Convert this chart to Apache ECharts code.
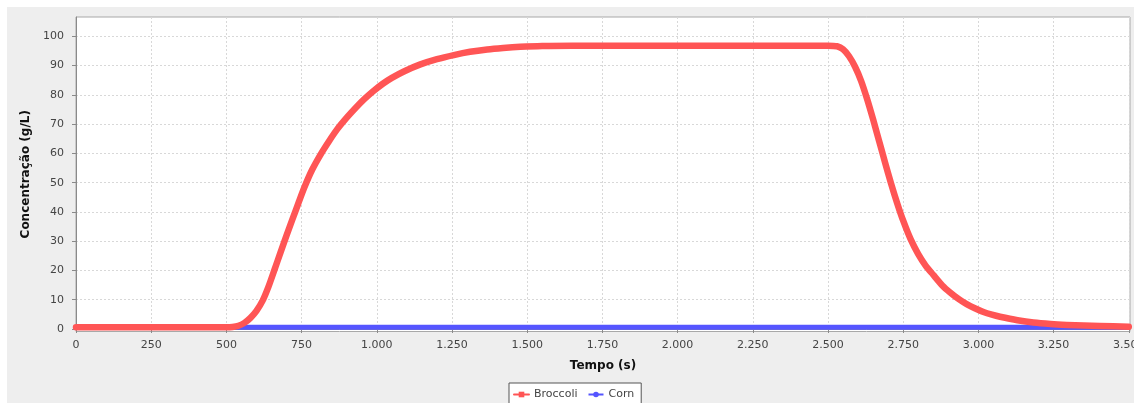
<!DOCTYPE html>
<html>
<head>
<meta charset="utf-8">
<script src="https://cdn.jsdelivr.net/npm/echarts@6/dist/echarts.min.js"></script>
<style>
  html, body { margin: 0; padding: 0; background: #ffffff; overflow: hidden; }
  #panel { position: absolute; left: 7px; top: 7px; width: 1127px; height: 396px; background: #eeeeee; }
  #chart { position: absolute; left: 0; top: 0; width: 1134px; height: 403px; }
</style>
</head>
<body>
<div id="panel"></div>
<div id="chart"></div>
<script>
// Simulated concentration over time (s) for two products
const tempo = [0, 500, 520, 540, 560, 580, 600, 620, 640, 660, 680, 700, 720, 740, 760, 785, 813, 840, 868, 900, 930, 960, 990, 1020, 1050, 1090, 1145, 1200, 1256, 1310, 1367, 1420, 1477, 1550, 1650, 2000, 2500, 2530, 2550, 2570, 2590, 2610, 2630, 2650, 2670, 2690, 2710, 2730, 2750, 2775, 2800, 2825, 2850, 2880, 2906, 2935, 2961, 2990, 3017, 3045, 3072, 3130, 3183, 3240, 3294, 3350, 3404, 3500];
const broccoli = [0.6, 0.6, 0.7, 1.1, 2.1, 3.8, 6.2, 9.6, 14.5, 20.3, 26.2, 32.0, 37.6, 43.2, 48.6, 54.4, 59.6, 64.0, 68.2, 72.2, 75.6, 78.7, 81.4, 83.8, 85.8, 88.0, 90.4, 92.2, 93.6, 94.7, 95.5, 96.0, 96.4, 96.7, 96.8, 96.8, 96.8, 96.6, 95.6, 93.2, 89.6, 84.8, 78.6, 71.6, 64.2, 56.8, 49.6, 43.0, 37.0, 30.6, 25.6, 21.6, 18.5, 14.9, 12.5, 10.2, 8.5, 7.0, 5.8, 4.9, 4.2, 3.0, 2.2, 1.7, 1.4, 1.2, 1.0, 0.8];
const cornTempo = [0, 3500];
const corn = [0.6, 0.6];

const xTicks = [0, 250, 500, 750, 1000, 1250, 1500, 1750, 2000, 2250, 2500, 2750, 3000, 3250, 3500];
const yTicks = [0, 10, 20, 30, 40, 50, 60, 70, 80, 90, 100];

const pairs = (xs, ys) => xs.map((x, i) => [x, ys[i]]);
const thousands = v => String(v).replace(/\B(?=(\d{3})+(?!\d))/g, '.');

const font = 'DejaVu Sans';
const chart = echarts.init(document.getElementById('chart'), null, { renderer: 'canvas' });

chart.setOption({
  backgroundColor: 'transparent',
  animation: false,
  grid: {
    left: 76, top: 17, right: 4, bottom: 71.5,
    outerBoundsMode: 'none', containLabel: false,
    show: true, backgroundColor: '#ffffff', borderColor: '#a8a8a8', borderWidth: 1
  },
  xAxis: {
    type: 'value', min: 0, max: 3504, offset: 2,
    name: 'Tempo (s)', nameLocation: 'middle', nameGap: 26.5,
    nameTextStyle: { fontFamily: font, fontWeight: 'bold', fontSize: 12, color: '#111' },
    axisLine: { show: true, lineStyle: { color: '#8a8a8a', width: 1 } },
    axisTick: { show: true, length: 4, lineStyle: { color: '#8a8a8a' }, customValues: xTicks },
    axisLabel: { customValues: xTicks, formatter: thousands, margin: 6, fontFamily: font, fontSize: 11, color: '#444', hideOverlap: false },
    splitLine: { show: true, lineStyle: { color: '#d8d8d8', type: [2, 2], width: 1 } }
  },
  yAxis: {
    type: 'value', min: -0.85, max: 106.6, offset: 5,
    name: 'Concentração (g/L)', nameLocation: 'middle', nameGap: 35,
    nameTextStyle: { fontFamily: font, fontWeight: 'bold', fontSize: 12, color: '#111' },
    axisLine: { show: true, lineStyle: { color: '#8a8a8a', width: 1 } },
    axisTick: { show: true, length: 4, lineStyle: { color: '#8a8a8a' }, customValues: yTicks },
    axisLabel: { customValues: yTicks, margin: 7, fontFamily: font, fontSize: 11, color: '#444' },
    splitLine: { show: true, lineStyle: { color: '#d8d8d8', type: [2, 2], width: 1 } }
  },
  legend: {
    left: 509, top: 383,
    padding: [6, 7, 6, 4],
    itemGap: 10, itemWidth: 15, itemHeight: 7,
    backgroundColor: '#ffffff', borderColor: '#555555', borderWidth: 1,
    textStyle: { fontFamily: font, fontSize: 11, color: '#444' },
    lineStyle: { width: 2 },
    data: ['Broccoli', 'Corn']
  },
  series: [
    {
      name: 'Broccoli', type: 'line', z: 3,
      data: pairs(tempo, broccoli),
      smooth: 0.25,
      symbol: 'rect', showSymbol: false, clip: true,
      itemStyle: { color: '#ff5555' },
      lineStyle: { color: '#ff5555', width: 6.5, join: 'round', cap: 'round' }
    },
    {
      name: 'Corn', type: 'line', z: 2,
      data: pairs(cornTempo, corn),
      symbol: 'circle', showSymbol: false, clip: true,
      itemStyle: { color: '#5555ff' },
      lineStyle: { color: '#5555ff', width: 5 }
    }
  ]
});
</script>
</body>
</html>
